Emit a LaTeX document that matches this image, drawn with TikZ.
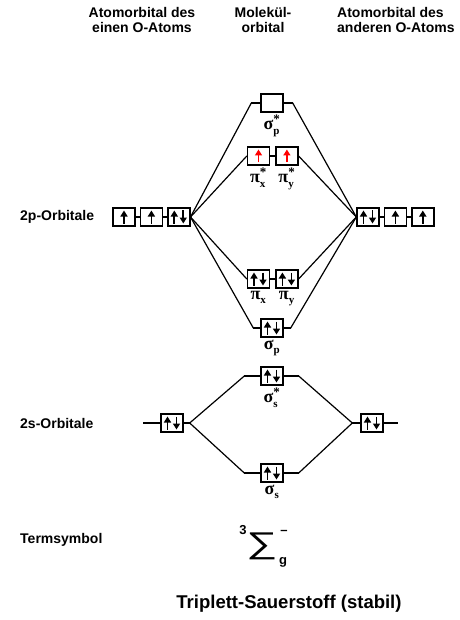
\documentclass[tikz,border=0pt]{standalone}
\usepackage{fontspec}
\setmainfont{Liberation Sans}
\newfontfamily\greek{Liberation Serif Bold}
\usetikzlibrary{arrows.meta,positioning,calc}
\tikzset{
  orb/.style={draw, line width=1.4pt, minimum width=22pt, minimum height=18pt, inner sep=0pt},
  spin/.style={line width=1.8pt, draw=#1, -{Triangle[width=7pt,length=6pt]}},
  one/.style={orb, path picture={
      \draw[spin=#1] ([yshift=-6.5pt]path picture bounding box.center) -- ([yshift=6.5pt]path picture bounding box.center);}},
  one/.default=black,
  two/.style={orb, path picture={
      \draw[spin=black] ([shift={(-4.5pt,-6.5pt)}]path picture bounding box.center) -- ([shift={(-4.5pt,6.5pt)}]path picture bounding box.center);
      \draw[spin=black] ([shift={(4.5pt,6.5pt)}]path picture bounding box.center) -- ([shift={(4.5pt,-6.5pt)}]path picture bounding box.center);}},
  link/.style={line width=1.2pt},
  head/.style={font=\bfseries\fontsize{14}{15.5}\selectfont, align=center, inner sep=0pt},
  side/.style={font=\bfseries\fontsize{14}{16}\selectfont, anchor=west, inner sep=0pt},
  molab/.style={font=\fontsize{18}{18}\selectfont, inner sep=0pt},
  tsc/.style={font=\bfseries\fontsize{13}{13}\selectfont, inner sep=0pt},
}
\newcommand{\mo}[3]{\greek #1$_{\mbox{\greek\fontsize{11}{11}\selectfont #2}}^{\mbox{\greek\fontsize{13}{13}\selectfont #3}}$}

\begin{document}
\begin{tikzpicture}[x=1pt, y=-1pt, node distance=4pt]
  \useasboundingbox[fill=white] (0,0) rectangle (459,620);
  % column heads and row labels
  \node[head] (hl) at (142,20) {Atomorbital des\\einen O-Atoms};
  \node[head] (hm) at (263,20) {Molekül-\\orbital};
  \node[head, align=left, anchor=west] (hr) at (337,20) {Atomorbital des\\anderen O-Atoms};
  \node[side] (l2p) at (20,217) {2p-Orbitale};
  \node[side] (l2s) at (20,423) {2s-Orbitale};
  \node[side] (lts) at (20,540) {Termsymbol};
  % 2p of both atoms
  \node[one] (a1) at (124,217) {};
  \node[one, right=of a1] (a2) {};
  \node[two, right=of a2] (a3) {};
  \node[two] (b1) at (368,217) {};
  \node[one, right=of b1] (b2) {};
  \node[one, right=of b2] (b3) {};
  % 2p molecule orbitals
  \node[orb] (sps) at (272,103) {};
  \node[one=red] (pxs) at (258.5,156) {};
  \node[one=red, right=5pt of pxs] (pys) {};
  \node[two] (px) at (258.5,279) {};
  \node[two, right=5pt of px] (py) {};
  \node[two] (sp) at (272,328) {};
  % 2s
  \node[two] (c1) at (172,423) {};
  \node[two] (c2) at (372,423) {};
  \node[two] (sss) at (272,376) {};
  \node[two] (ss) at (272,473) {};
  % labels under the boxes
  \node[molab, below=2pt of sps] (lsps) {\mo{σ}{p}{*}};
  \node[molab, below=2pt of pxs] (lpxs) {\mo{π}{x}{*}};
  \node[molab, below=2pt of pys] (lpys) {\mo{π}{y}{*}};
  \node[molab, below=2pt of px] (lpx) {\mo{π}{x}{}};
  \node[molab, below=2pt of py] (lpy) {\mo{π}{y}{}};
  \node[molab, below=2pt of sp] (lsp) {\mo{σ}{p}{}};
  \node[molab, below=2pt of sss] (lsss) {\mo{σ}{s}{*}};
  \node[molab, below=2pt of ss] (lss) {\mo{σ}{s}{}};
  % stub ends
  \coordinate[left=9pt of sps] (spsl);
  \coordinate[right=9pt of sps] (spsr);
  \coordinate[left=7pt of sp] (spl);
  \coordinate[right=7pt of sp] (spr);
  \coordinate[left=16pt of sss] (sssl);
  \coordinate[right=15pt of sss] (sssr);
  \coordinate[left=16pt of ss] (ssl);
  \coordinate[right=15pt of ss] (ssr);
  \coordinate[left=17pt of c1] (c1l);
  \coordinate[right=6pt of c1] (c1r);
  \coordinate[left=8pt of c2] (c2l);
  \coordinate[right=14pt of c2] (c2r);
  % connectors
  \foreach \x/\y in {a1/a2, a2/a3, b1/b2, b2/b3, pxs/pys, px/py, spsl/sps, spsr/sps, spl/sp, spr/sp,
    c1l/c1, c1/c1r, c2l/c2, c2/c2r, sssl/sss, sss/sssr, ssl/ss, ss/ssr} \draw[link] (\x) -- (\y);
  \foreach \t in {spsl, pxs.west, px.west, spl} \draw[link] (a3.east) -- (\t);
  \foreach \t in {spsr, pys.east, py.east, spr} \draw[link] (b1.west) -- (\t);
  \foreach \t in {sssl, ssl} \draw[link] (c1r) -- (\t);
  \foreach \t in {sssr, ssr} \draw[link] (c2l) -- (\t);
  % term symbol
  \node[font=\fontsize{30}{30}\selectfont, inner sep=0pt] (sig) at (262,546) {\scalebox{1.45}[1]{∑}};
  \node[tsc] (t3) at (243,530) {3};
  \node[tsc] (tm) at (284,532) {–};
  \node[tsc] (tg) at (283,562) {g};
  \node[font=\bfseries\fontsize{18.5}{20}\selectfont, inner sep=0pt] (title) at (289,604) {Triplett-Sauerstoff (stabil)};
\end{tikzpicture}
\end{document}
